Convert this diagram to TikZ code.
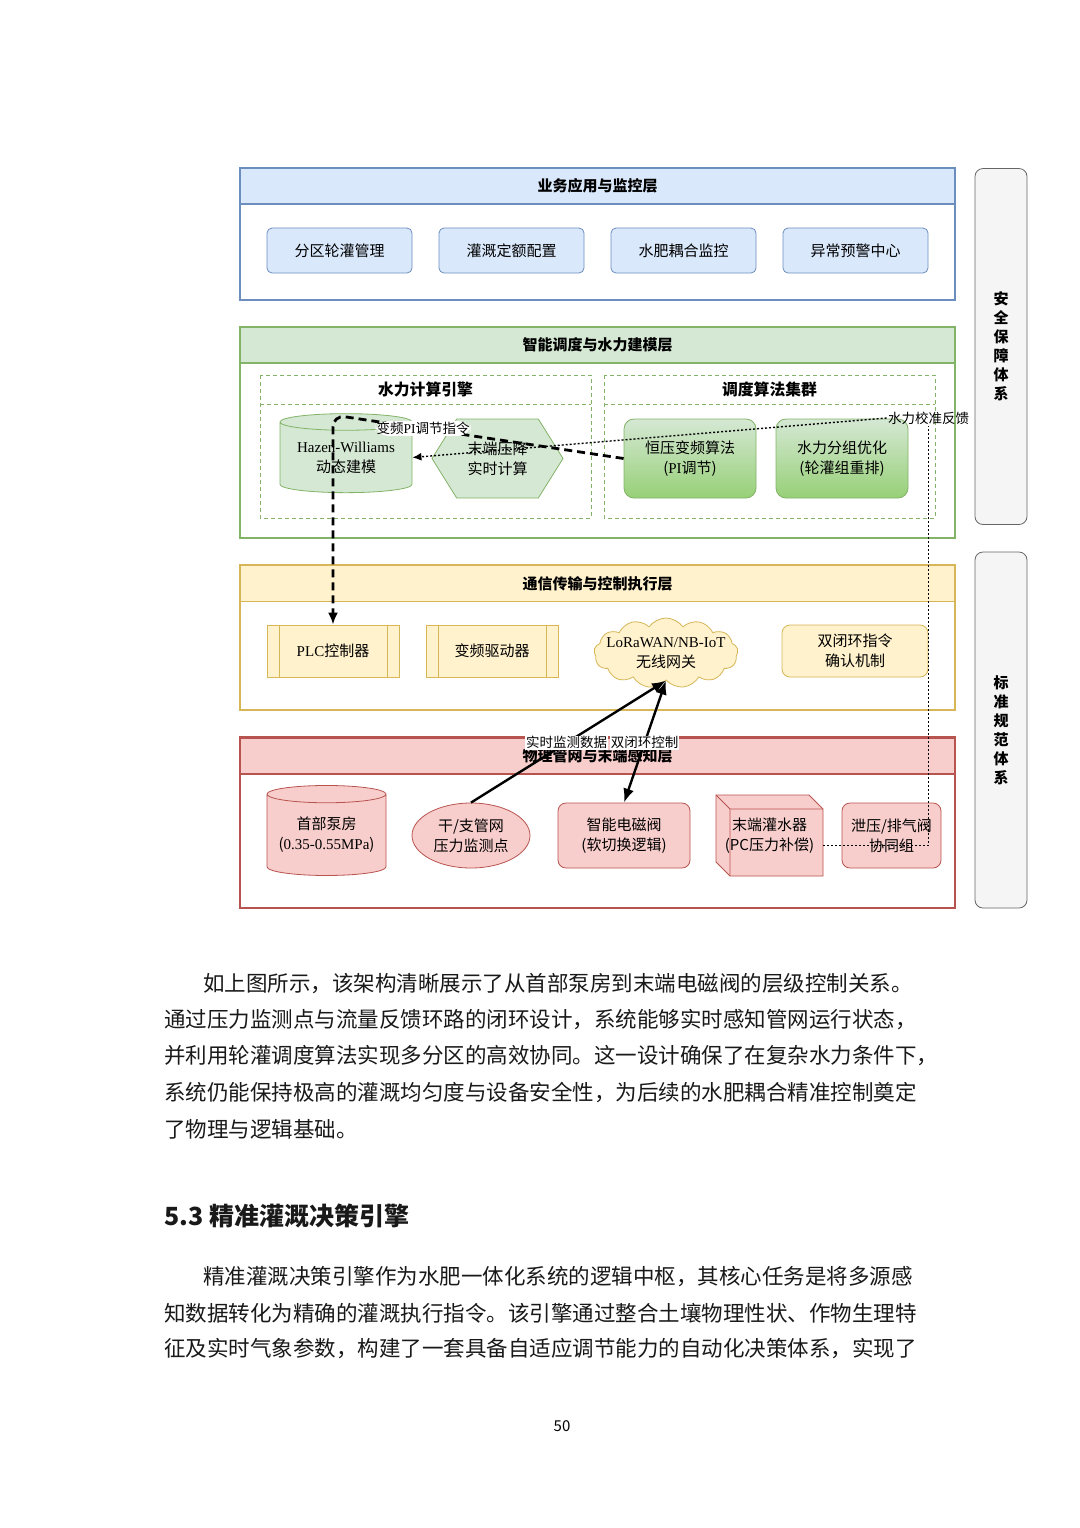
\documentclass[tikz,border=0pt]{standalone}
\usepackage{fontspec}
\setmainfont{Noto Sans CJK SC}
\newfontfamily\latinserif{Liberation Serif}
\usetikzlibrary{arrows.meta,calc,positioning,shapes.geometric,shapes.symbols}
\definecolor{appfill}{HTML}{DAE8FC}
\definecolor{appline}{HTML}{6C8EBF}
\definecolor{hydfill}{HTML}{D5E8D4}
\definecolor{hydline}{HTML}{82B366}
\definecolor{hyddark}{HTML}{97D077}
\definecolor{comfill}{HTML}{FFF2CC}
\definecolor{comline}{HTML}{D6B656}
\definecolor{netfill}{HTML}{F8CECC}
\definecolor{netline}{HTML}{B85450}
\definecolor{sidefill}{HTML}{F5F5F5}
\definecolor{sideline}{HTML}{666666}
\newcommand{\boxfont}{\fontsize{7.5}{10}\selectfont}
\newcommand{\tagfont}{\fontsize{6.75}{8}\selectfont}
\newcommand{\bodyfont}{\fontsize{10.75}{13}\selectfont}
\newcommand{\serifword}[1]{{\latinserif #1}}

\begin{document}
\begin{tikzpicture}[x=0.5pt, y=-0.5pt,
  every node/.style={font=\boxfont, align=center, inner sep=1pt},
  >={Latex[length=7pt,width=5.5pt]},
  layerbody/.style={draw=#1, line width=0.6pt, fill=white},
  layerhead/.style 2 args={draw=#1, fill=#2, line width=0.6pt, minimum width=357.5pt,
    minimum height=18pt, font=\boxfont\bfseries},
  appbox/.style={draw=appline, fill=appfill, rounded corners=2.5pt, minimum width=72.5pt, minimum height=22.5pt},
  groupbox/.style={draw=hydline, line width=0.4pt, dash pattern=on 2pt off 1.5pt},
  grouptitle/.style={font=\fontsize{7.9}{10}\selectfont\bfseries},
  hydshape/.style={draw=hydline, fill=hydfill, inner sep=0pt},
  algbox/.style={draw=hydline, top color=hydfill, bottom color=hyddark, rounded corners=5pt,
    minimum width=66pt, minimum height=39.5pt},
  procbox/.style={draw=comline, fill=comfill, minimum width=66pt, minimum height=26pt,
    path picture={\draw[comline] ([xshift=6pt]path picture bounding box.north west) -- ([xshift=6pt]path picture bounding box.south west)
      ([xshift=-6pt]path picture bounding box.north east) -- ([xshift=-6pt]path picture bounding box.south east);}},
  combox/.style={draw=comline, fill=comfill, rounded corners=4pt, minimum width=73pt, minimum height=26pt},
  netbox/.style={draw=netline, fill=netfill, rounded corners=4pt, minimum height=32.5pt},
  sidebox/.style={draw=sideline, fill=sidefill, rounded corners=4pt, minimum width=26pt,
    minimum height=178pt, font=\fontsize{7.5}{9.5}\selectfont\bfseries},
  linktag/.style={fill=white, inner sep=0.5pt, font=\tagfont},
  pidash/.style={line width=1.4pt, dash pattern=on 4pt off 2.5pt, rounded corners=6pt,
    -{Latex[length=6pt,width=5pt]}},
  fbdot/.style={line width=0.7pt, dash pattern=on 1pt off 1pt},
  ctrlarrow/.style={line width=1.2pt},
  bodyline/.style={anchor=west, inner sep=0pt, font=\bodyfont, text=black!90}
]
  \useasboundingbox (0,0) rectangle (1080,1528);
  \fill[white] (0,0) rectangle (1080,1528);

  % --- Business application and monitoring layer ---
  \draw[layerbody=appline] (240,168) rectangle (955,300);
  \node[layerhead={appline}{appfill}] (apphead) at (597.5,186) {业务应用与监控层};
  \node[appbox] (zone)  at (339.5,250.5) {分区轮灌管理};
  \node[appbox] (quota) at (511.5,250.5) {灌溉定额配置};
  \node[appbox] (fert)  at (683.5,250.5) {水肥耦合监控};
  \node[appbox] (alarm) at (855.5,250.5) {异常预警中心};

  % --- Scheduling and hydraulic modelling layer ---
  \draw[layerbody=hydline] (240,327) rectangle (955,538);
  \node[layerhead={hydline}{hydfill}] (hydhead) at (597.5,345) {智能调度与水力建模层};
  \draw[groupbox] (260,375) rectangle (591,518);
  \draw[groupbox] (260,404) -- (591,404);
  \node[grouptitle] (enginetitle) at (425.5,389) {水力计算引擎};
  \draw[groupbox] (604,375) rectangle (935,518);
  \draw[groupbox] (604,404) -- (935,404);
  \node[grouptitle] (clustertitle) at (769.5,389) {调度算法集群};
  \node[hydshape, cylinder, shape border rotate=90, aspect=0.17,
    minimum width=66pt, minimum height=39.5pt] (hw) at (346,457.5) {\serifword{Hazen-Williams}\\动态建模};
  \node[hydshape, signal, signal to=east and west, signal pointer angle=116,
    minimum width=65.5pt, minimum height=39.5pt] (drop) at (497.5,458.5) {末端压降\\实时计算};
  \node[algbox] (heng)  at (690,458.5) {恒压变频算法\\(\serifword{PI}调节)};
  \node[algbox] (group) at (842,458.5) {水力分组优化\\(轮灌组重排)};

  % --- Communication and control execution layer ---
  \draw[layerbody=comline] (240,565) rectangle (955,710);
  \node[layerhead={comline}{comfill}] (comhead) at (597.5,583.5) {通信传输与控制执行层};
  \node[procbox] (plc) at (333,651) {\serifword{PLC}控制器};
  \node[procbox] (vfd) at (492,651) {变频驱动器};
  \node[cloud, cloud puffs=13, cloud puff arc=110, aspect=2.1, draw=comline, fill=comfill,
    inner sep=0pt, minimum width=72pt, minimum height=35pt] (gw) at (666,653) {};
  \node (gwtext) at (gw.center) {\serifword{LoRaWAN/NB-IoT}\\无线网关};
  \node[combox] (dual) at (855,651) {双闭环指令\\确认机制};

  % --- Physical pipe network and end sensing layer ---
  \draw[layerbody=netline] (240,737) rectangle (955,908);
  \node[layerhead={netline}{netfill}] (nethead) at (597.5,756) {物理管网与末端感知层};
  \node[draw=netline, fill=netfill, inner sep=0pt, cylinder, shape border rotate=90, aspect=0.18,
    minimum width=59.5pt, minimum height=45pt] (pump) at (326.5,835) {首部泵房\\(\serifword{0.35-0.55MPa})};
  \node[draw=netline, fill=netfill, ellipse, inner sep=0pt,
    minimum width=59pt, minimum height=32.5pt] (pipe) at (471,835.5) {干/支管网\\压力监测点};
  \node[netbox, minimum width=66pt] (valve) at (624,835.5) {智能电磁阀\\(软切换逻辑)};
  \draw[draw=netline, fill=netfill] (716,795) -- (809,795) -- (823,809) -- (823,876)
    -- (730,876) -- (716,862) -- cycle;
  \draw[netline] (716,795) -- (730,809) -- (823,809) (730,809) -- (730,876);
  \node[inner sep=0pt, minimum width=53.5pt, minimum height=40.5pt] (emitter) at (769.5,836) {末端灌水器\\(PC压力补偿)};
  \node[netbox, minimum width=49.5pt] (relief) at (891.5,835.5) {泄压/排气阀\\协同组};

  % --- Side systems ---
  \node[sidebox] (safety)   at (1001,346.5) {安\\全\\保\\障\\体\\系};
  \node[sidebox] (standard) at (1001,730) {标\\准\\规\\范\\体\\系};

  % --- Connectors ---
  \coordinate (pibend) at (333,415);
  \draw[pidash] (heng.west) -- node[linktag, pos=0.69] (pitag) {变频\serifword{PI}调节指令} (pibend) -- (plc.north);
  \node[linktag, fill=none] (fb) at (928.5,418) {水力校准反馈};
  \draw[fbdot] ([yshift=-4.75pt]emitter.east) -| (fb.south);
  \draw[fbdot, -{Latex[length=4.5pt,width=4pt]}] (fb.west) -- (hw.east);
  \draw[ctrlarrow, ->] (pipe.north) -- node[linktag, pos=0.49] (datatag) {实时监测数据} (gw.south);
  \draw[ctrlarrow, <->] (gw.south) -- node[linktag, pos=0.51] (ctrltag) {双闭环控制} (valve.north);

  % --- Text below the figure ---
  \node[bodyline] (p1a) at (203,984)  {如上图所示，该架构清晰展示了从首部泵房到末端电磁阀的层级控制关系。};
  \node[bodyline] (p1b) at (164,1020) {通过压力监测点与流量反馈环路的闭环设计，系统能够实时感知管网运行状态，};
  \node[bodyline] (p1c) at (164,1056) {并利用轮灌调度算法实现多分区的高效协同。这一设计确保了在复杂水力条件下，};
  \node[bodyline] (p1d) at (164,1092) {系统仍能保持极高的灌溉均匀度与设备安全性，为后续的水肥耦合精准控制奠定};
  \node[bodyline] (p1e) at (164,1129) {了物理与逻辑基础。};
  \node[bodyline, font=\fontsize{12.5}{15}\selectfont\bfseries] (sec) at (164,1216) {5.3 精准灌溉决策引擎};
  \node[bodyline] (p2a) at (203,1277) {精准灌溉决策引擎作为水肥一体化系统的逻辑中枢，其核心任务是将多源感};
  \node[bodyline] (p2b) at (164,1313) {知数据转化为精确的灌溉执行指令。该引擎通过整合土壤物理性状、作物生理特};
  \node[bodyline] (p2c) at (164,1349) {征及实时气象参数，构建了一套具备自适应调节能力的自动化决策体系，实现了};
  \node[font=\fontsize{7.5}{9}\selectfont] (pageno) at (562,1426) {50};
\end{tikzpicture}
\end{document}
